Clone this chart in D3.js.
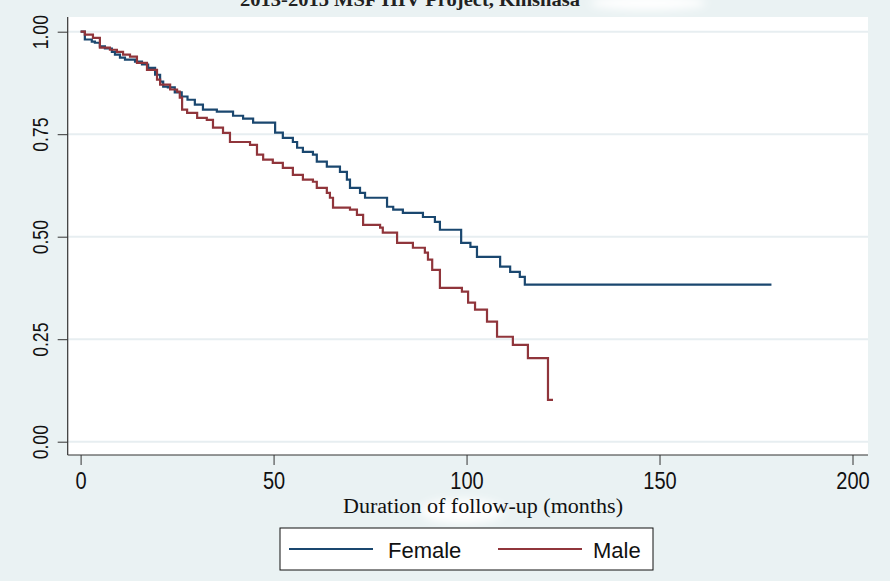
<!DOCTYPE html>
<html><head><meta charset="utf-8">
<script src="https://cdn.jsdelivr.net/npm/d3@7"></script>
<style>body{margin:0;background:#eaf2f3}</style>
</head><body><svg id="c" width="890" height="581"></svg>
<script>
// ---- data (Kaplan-Meier step points) ----
const femaleTime = [0,1.1,2.9,3.7,5.0,6.3,8.1,8.9,10.2,11.5,14.1,15.9,17.5,19.3,20.6,21.4,22.6,24.4,26.2,27.7,29.6,31.7,35.3,39.5,42.1,44.7,50.4,52.4,55.0,56.1,57.6,60.2,61.2,63.8,67.2,69.0,69.8,72.4,73.7,79.4,81.0,83.5,88.7,91.8,93.1,98.6,101.0,102.7,108.7,111.3,113.8,115.1,179];
const femaleSurv = [1.0,0.981,0.976,0.973,0.964,0.959,0.951,0.944,0.937,0.932,0.927,0.920,0.912,0.895,0.878,0.866,0.864,0.852,0.842,0.834,0.822,0.810,0.805,0.795,0.788,0.778,0.754,0.741,0.731,0.717,0.707,0.700,0.683,0.671,0.658,0.639,0.619,0.607,0.595,0.573,0.566,0.558,0.548,0.536,0.517,0.485,0.475,0.451,0.427,0.414,0.402,0.383,0.383];
const maleTime = [0,1.1,3.2,5.0,7.6,9.4,11.0,12.8,14.6,17.2,19.8,20.6,23.2,25.0,25.7,26.3,27.6,30.2,32.7,34.3,36.9,38.7,43.9,45.7,47.3,49.8,52.4,55.0,57.6,60.2,61.2,63.8,64.6,65.4,69.8,71.6,73.2,77.6,78.3,82.0,86.1,89.2,90.0,91.1,93.1,98.8,100.4,102.2,105.3,107.9,112.0,115.9,121.1,122.4];
const maleSurv = [1.0,0.993,0.985,0.961,0.956,0.951,0.944,0.939,0.924,0.907,0.883,0.871,0.859,0.854,0.839,0.810,0.802,0.790,0.785,0.766,0.753,0.731,0.724,0.700,0.688,0.680,0.668,0.651,0.639,0.634,0.619,0.607,0.595,0.571,0.566,0.553,0.529,0.522,0.510,0.485,0.473,0.461,0.444,0.419,0.375,0.366,0.339,0.322,0.293,0.256,0.236,0.204,0.102,0.102];
const xTicks = [0,50,100,150,200];
const yTicks = [0,0.25,0.5,0.75,1];
const seriesNames = ["Female","Male"];
const titleText = "2013-2015 MSF HIV Project, Kinshasa";
const xTitle = "Duration of follow-up (months)";

// ---- drawing ----
const W = 890, H = 581;
const svg = d3.select("#c");
const bg = "#eaf2f3";
const navy = "#1a476f", maroon = "#90353b";
const sans = "'Liberation Sans', Arial, sans-serif";
const serif = "'Liberation Serif', 'Times New Roman', serif";
svg.append("rect").attr("width",W).attr("height",H).attr("fill",bg);

const defs = svg.append("defs");
defs.append("filter").attr("id","blur").attr("x","-50%").attr("y","-50%").attr("width","200%").attr("height","200%")
  .append("feGaussianBlur").attr("stdDeviation",4);

const plotL = 67.7, plotR = 868, plotT = 17, plotB = 455;

// white smudge near the title
svg.append("ellipse").attr("cx",648).attr("cy",3).attr("rx",58).attr("ry",7).attr("fill","#fff").attr("filter","url(#blur)");

// clipped title at top
svg.append("text").attr("x",410).attr("y",6).attr("text-anchor","middle")
  .attr("font-family",serif).attr("font-weight","bold")
  .attr("font-size",19).attr("textLength",340).attr("lengthAdjust","spacingAndGlyphs")
  .attr("fill","#222").text(titleText);

// plot region
svg.append("rect").attr("x",plotL).attr("y",plotT).attr("width",plotR-plotL).attr("height",plotB-plotT).attr("fill","#fff");

const x = d3.scaleLinear().domain([0,200]).range([80.6,852.5]);
const y = d3.scaleLinear().domain([0,1]).range([441.7,31.7]);

// grid
svg.append("g").selectAll("line").data(yTicks).join("line")
  .attr("x1",plotL).attr("x2",plotR).attr("y1",d=>y(d)).attr("y2",d=>y(d))
  .attr("stroke","#e7eef1").attr("stroke-width",2);

// y axis
const ya = svg.append("g").attr("transform",`translate(${plotL},0)`)
  .attr("font-family",sans)
  .call(d3.axisLeft(y).tickValues(yTicks).tickFormat(d3.format(".2f")).tickSize(10).tickSizeOuter(0));
ya.attr("font-family",sans);
ya.select(".domain").remove();
ya.selectAll(".tick line").attr("stroke","#333");
ya.selectAll(".tick text")
  .attr("x",null).attr("dy",null).attr("y",null)
  .attr("text-anchor","middle")
  .attr("transform","translate(-20,0) rotate(-90) scale(0.8,1)")
  .style("font-family",sans).attr("font-size",22).attr("fill","#111");

// x axis
const xa = svg.append("g").attr("transform",`translate(0,${plotB})`)
  .call(d3.axisBottom(x).tickValues(xTicks).tickFormat(d3.format("d")).tickSize(10).tickSizeOuter(0));
xa.attr("font-family",sans);
xa.select(".domain").remove();
xa.selectAll(".tick line").attr("stroke","#333");
xa.selectAll(".tick text")
  .attr("y",34).attr("dy",null)
  .attr("transform","scale(0.87,1)")
  .style("font-family",sans).attr("font-size",23).attr("fill","#111");

// axis lines
svg.append("line").attr("x1",plotL).attr("x2",plotL).attr("y1",plotT).attr("y2",plotB).attr("stroke","#333").attr("stroke-width",1.2);
svg.append("line").attr("x1",plotL).attr("x2",plotR).attr("y1",plotB).attr("y2",plotB).attr("stroke","#333").attr("stroke-width",1.2);

// curves
const line = d3.line().x(d=>x(d[0])).y(d=>y(d[1])).curve(d3.curveStepAfter);
const fData = femaleTime.map((t,i)=>[t,femaleSurv[i]]);
const mData = maleTime.map((t,i)=>[t,maleSurv[i]]);
svg.append("path").datum(fData).attr("d",line).attr("fill","none").attr("stroke",navy).attr("stroke-width",2.2);
svg.append("path").datum(mData).attr("d",line).attr("fill","none").attr("stroke",maroon).attr("stroke-width",2.2);

// smudge under x title
svg.append("ellipse").attr("cx",462).attr("cy",511).attr("rx",42).attr("ry",12).attr("fill","#fff").attr("filter","url(#blur)");

// x title
svg.append("text").attr("x",483).attr("y",513).attr("text-anchor","middle")
  .attr("font-family",serif).attr("font-size",20)
  .attr("textLength",280).attr("lengthAdjust","spacingAndGlyphs")
  .attr("fill","#111").text(xTitle);

// legend
const lg = svg.append("g");
lg.append("rect").attr("x",280).attr("y",528).attr("width",373).attr("height",42)
  .attr("fill","#fff").attr("stroke","#111").attr("stroke-width",1);
const legendItems = [
  {name: seriesNames[0], color: navy, x1: 289, x2: 373, tx: 388},
  {name: seriesNames[1], color: maroon, x1: 498, x2: 582, tx: 593}
];
legendItems.forEach(it=>{
  lg.append("line").attr("x1",it.x1).attr("x2",it.x2).attr("y1",549).attr("y2",549).attr("stroke",it.color).attr("stroke-width",2.2);
  lg.append("text").attr("x",it.tx).attr("y",558)
    .attr("font-family",sans).attr("font-size",22)
    .attr("fill","#111").text(it.name);
});
</script></body></html>
